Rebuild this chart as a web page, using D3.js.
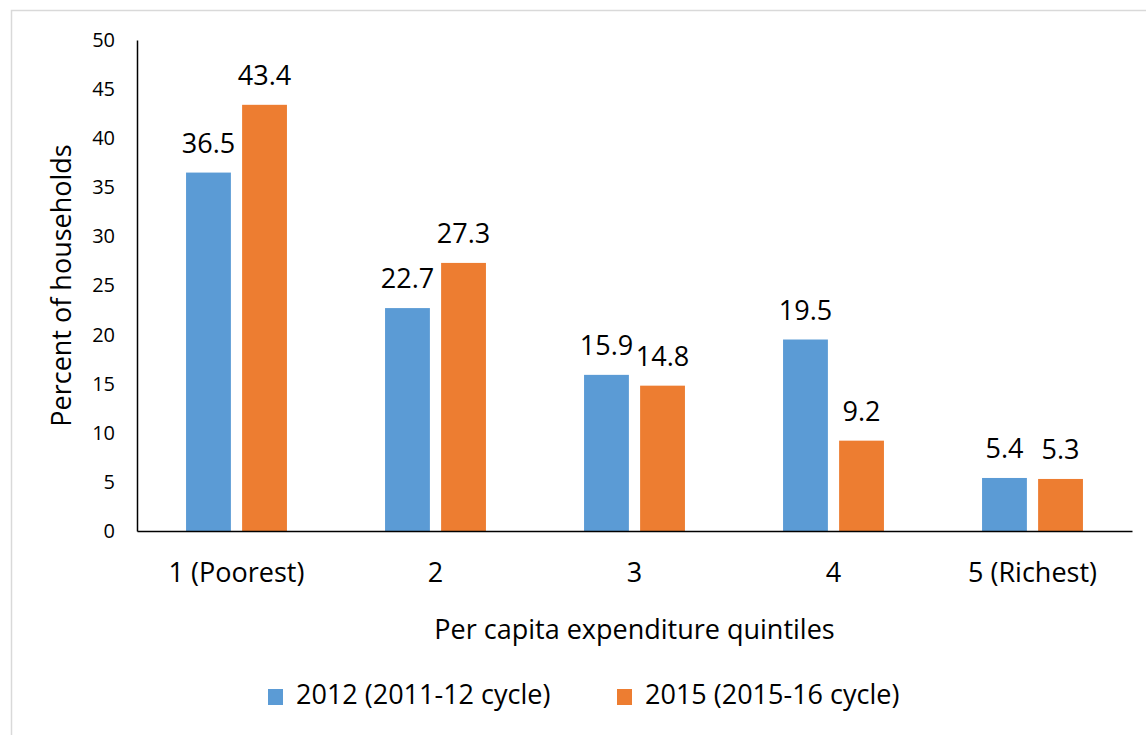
<!DOCTYPE html>
<html>
<head>
<meta charset="utf-8">
<script src="https://cdn.jsdelivr.net/npm/d3@7"></script>
<style>
  body { margin: 0; background: #fff; }
  svg, svg text { font-family: "Open Sans", sans-serif; }
  svg { display: block; }
</style>
</head>
<body>
<svg id="chart" width="1146" height="735"></svg>
<script>
// chart data
const quintiles = ["1 (Poorest)", "2", "3", "4", "5 (Richest)"];
const seriesNames = ["2012 (2011-12 cycle)", "2015 (2015-16 cycle)"];
const values2012 = [36.5, 22.7, 15.9, 19.5, 5.4];
const values2015 = [43.4, 27.3, 14.8, 9.2, 5.3];
const yTicks = [0, 5, 10, 15, 20, 25, 30, 35, 40, 45, 50];

const colors = ["#5B9BD5", "#ED7D31"];

const svg = d3.select("#chart");
const margin = { top: 40, left: 137, right: 14, bottom: 204 };
const width = 1146, height = 735;

// light frame like the exported chart area
svg.append("rect")
   .attr("x", 11.5).attr("y", 10.5)
   .attr("width", 1150).attr("height", 740)
   .attr("fill", "none")
   .attr("stroke", "#d9d9d9")
   .attr("stroke-width", 1.5);

const x = d3.scaleBand()
            .domain(quintiles)
            .range([margin.left, width - margin.right])
            .paddingInner(0)
            .paddingOuter(0);

const x1 = d3.scaleBand()
             .domain([0, 1])
             .range([0, x.bandwidth()])
             .paddingInner(0.2)
             .paddingOuter(0.875);

const y = d3.scaleLinear()
            .domain([0, 50])
            .range([height - margin.bottom, margin.top]);

// y axis (no tick marks, labels only)
const yAxis = svg.append("g")
   .attr("transform", `translate(${margin.left},0)`)
   .call(d3.axisLeft(y).tickValues(yTicks).tickSize(0).tickPadding(22));
yAxis.attr("font-family", null);
yAxis.select(".domain").attr("stroke", "#000").attr("stroke-width", 1.5);
yAxis.selectAll("text").style("font-size", "20px").attr("fill", "#000");

// bars
const rows = quintiles.map((q, i) => ({ q, vals: [values2012[i], values2015[i]] }));

const groups = svg.append("g").selectAll("g")
   .data(rows)
   .join("g")
   .attr("transform", d => `translate(${x(d.q)},0)`);

groups.selectAll("rect")
   .data(d => d.vals.map((v, s) => ({ v, s })))
   .join("rect")
   .attr("x", d => x1(d.s))
   .attr("y", d => y(d.v))
   .attr("width", x1.bandwidth())
   .attr("height", d => y(0) - y(d.v))
   .attr("fill", d => colors[d.s]);

groups.selectAll("text")
   .data(d => d.vals.map((v, s) => ({ v, s })))
   .join("text")
   .attr("x", d => x1(d.s) + x1.bandwidth() / 2)
   .attr("y", d => y(d.v) - 20)
   .attr("text-anchor", "middle")
   .style("font-size", "27px")
   .text(d => d.v.toFixed(1));

// x axis
const xAxis = svg.append("g")
   .attr("transform", `translate(0,${y(0)})`)
   .call(d3.axisBottom(x).tickSize(0).tickSizeOuter(0).tickPadding(32));
xAxis.attr("font-family", null);
xAxis.select(".domain").attr("stroke", "#000").attr("stroke-width", 1.5);
xAxis.selectAll("text").style("font-size", "27px").attr("fill", "#000")
     .attr("dy", "0.71em");

// axis titles
svg.append("text")
   .attr("x", (margin.left + width - margin.right) / 2)
   .attr("y", 632)
   .attr("text-anchor", "middle")
   .attr("dominant-baseline", "middle")
   .style("font-size", "27px")
   .text("Per capita expenditure quintiles");

svg.append("text")
   .attr("transform", `translate(64,${(y(0) + y(50)) / 2}) rotate(-90)`)
   .attr("text-anchor", "middle")
   .attr("dominant-baseline", "middle")
   .style("font-size", "27px")
   .text("Percent of households");

// legend
const legend = svg.append("g").attr("transform", "translate(268,697)");
const legendX = [0, 349];
seriesNames.forEach((name, i) => {
  legend.append("rect")
        .attr("x", legendX[i])
        .attr("y", -8)
        .attr("width", 15)
        .attr("height", 16)
        .attr("fill", colors[i]);
  legend.append("text")
        .attr("x", legendX[i] + 28)
        .attr("y", 0)
        .attr("dominant-baseline", "middle")
        .style("font-size", "27px")
        .text(name);
});
</script>
</body>
</html>
